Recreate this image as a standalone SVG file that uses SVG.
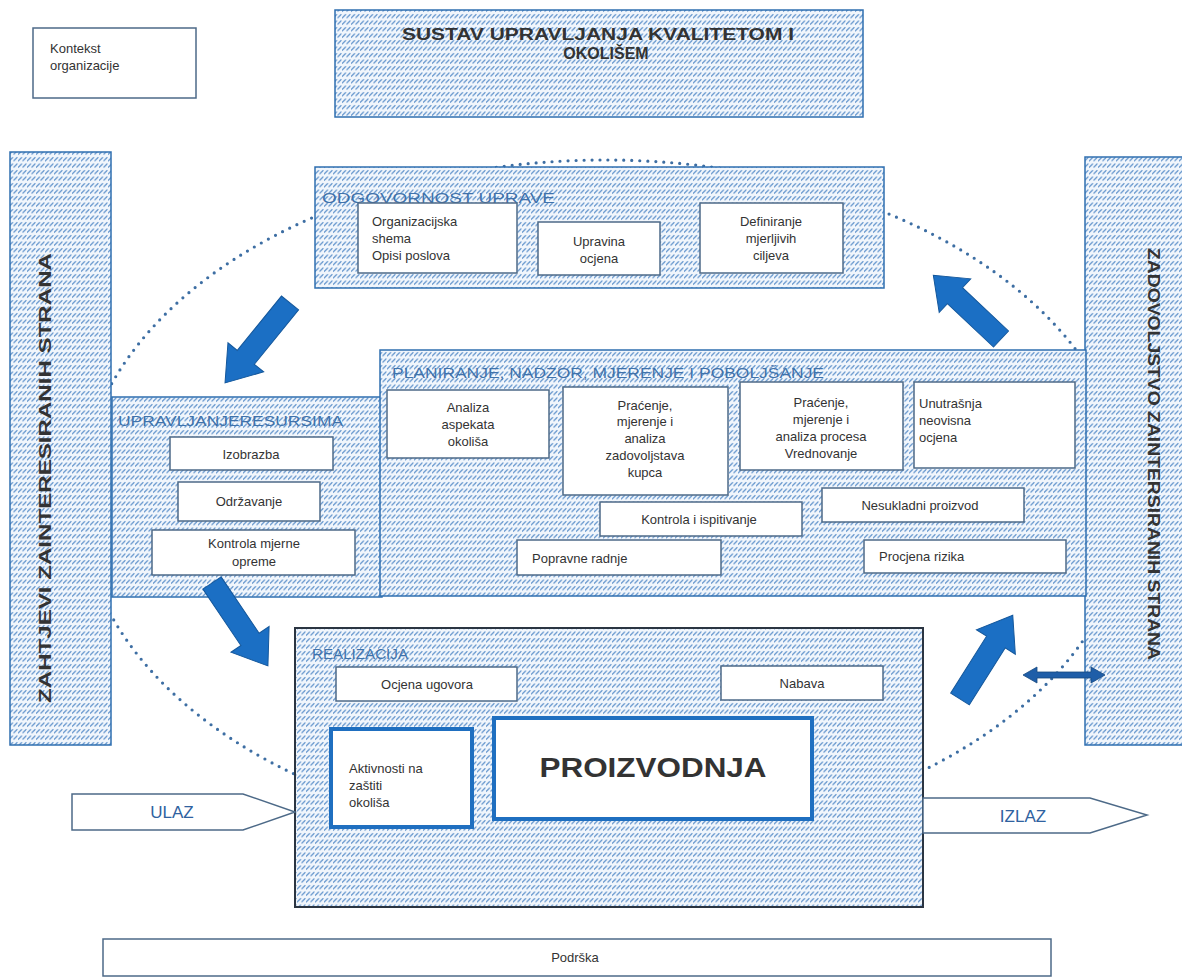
<svg xmlns="http://www.w3.org/2000/svg" width="1182" height="979" viewBox="0 0 1182 979">
<defs>
<pattern id="hatch" patternUnits="userSpaceOnUse" width="4.5" height="6.5">
<rect width="4.5" height="6.5" fill="#f1f6fc"/>
<path d="M0.3,4.8 L3.6,1.5" stroke="#3f7cc0" stroke-width="1.1" stroke-linecap="round"/>
</pattern>
<path id="blk" d="M0,-11 L68,-11 L68,-23 L100,0 L68,23 L68,11 L0,11 Z"/>
</defs>
<style>
.hb{fill:url(#hatch);stroke:#2f6fb0;stroke-width:1.5}
.wb{fill:#ffffff;stroke:#4d6a88;stroke-width:1.5}
.tb{fill:#ffffff;stroke:#1f6fc0;stroke-width:4}
.t{font-family:"Liberation Sans",Arial,sans-serif;font-size:13px;fill:#333333}
.c{text-anchor:middle}
.lbl{font-family:"Liberation Sans",Arial,sans-serif;font-size:14px;fill:#3f72ab}
.bold{font-family:"Liberation Sans",Arial,sans-serif;font-weight:bold;fill:#333333}
.io{fill:#ffffff;stroke:#4d6a88;stroke-width:1.5}
.iot{font-family:"Liberation Sans",Arial,sans-serif;font-size:17px;fill:#2f62a0;text-anchor:middle}
.arr{fill:#1b6fc4;stroke:#15589c;stroke-width:1}
</style>
<rect width="1182" height="979" fill="#ffffff"/>

<!-- dotted cycle -->
<ellipse cx="605" cy="500" rx="525" ry="340" fill="none" stroke="#3d6ea3" stroke-width="3.2" stroke-linecap="round" stroke-dasharray="0 8"/>

<g id="kontekst">
<rect x="33" y="28" width="163" height="70" class="wb"/>
<text x="50" y="53" class="t">Kontekst</text>
<text x="50" y="70" class="t">organizacije</text>
</g>

<g id="title">
<rect x="335" y="10" width="528" height="107" class="hb"/>
<text x="598" y="40" class="bold c" font-size="16" textLength="392" lengthAdjust="spacingAndGlyphs">SUSTAV UPRAVLJANJA KVALITETOM I</text>
<text x="606" y="59" class="bold c" font-size="16">OKOLIŠEM</text>
</g>

<g id="zahtjevi">
<rect x="10" y="152" width="101" height="593" class="hb"/>
<text transform="translate(51,478) rotate(-90)" class="bold c" font-size="17" textLength="450" lengthAdjust="spacingAndGlyphs">ZAHTJEVI ZAINTERESIRANIH STRANA</text>
</g>

<g id="zadovoljstvo">
<rect x="1085" y="157" width="100" height="588" class="hb"/>
<text transform="translate(1148,454) rotate(90)" class="bold c" font-size="16" textLength="412" lengthAdjust="spacingAndGlyphs">ZADOVOLJSTVO ZAINTERSIRANIH STRANA</text>
</g>

<g id="odgovornost">
<rect x="315" y="167" width="569" height="121" class="hb"/>
<text x="322" y="203" class="lbl" fill="#5f86b2" textLength="233" lengthAdjust="spacingAndGlyphs">ODGOVORNOST UPRAVE</text>
<rect x="358" y="203" width="159" height="70" class="wb"/>
<text x="372" y="226" class="t">Organizacijska</text>
<text x="372" y="243" class="t">shema</text>
<text x="372" y="260" class="t">Opisi poslova</text>
<rect x="538" y="222" width="122" height="53" class="wb"/>
<text x="599" y="246" class="t c">Upravina</text>
<text x="599" y="263" class="t c">ocjena</text>
<rect x="700" y="203" width="143" height="70" class="wb"/>
<text x="771" y="226" class="t c">Definiranje</text>
<text x="771" y="243" class="t c">mjerljivih</text>
<text x="771" y="260" class="t c">ciljeva</text>
</g>

<g id="resursi">
<rect x="112" y="397" width="270" height="200" class="hb"/>
<text x="118" y="426" class="lbl" textLength="225" lengthAdjust="spacingAndGlyphs">UPRAVLJANJERESURSIMA</text>
<rect x="170" y="437" width="163" height="33" class="wb"/>
<text x="251" y="459" class="t c">Izobrazba</text>
<rect x="178" y="482" width="142" height="39" class="wb"/>
<text x="249" y="506" class="t c">Održavanje</text>
<rect x="152" y="530" width="203" height="45" class="wb"/>
<text x="254" y="548" class="t c">Kontrola mjerne</text>
<text x="254" y="566" class="t c">opreme</text>
</g>

<g id="planiranje">
<rect x="380" y="350" width="706" height="246" class="hb"/>
<text x="392" y="378" class="lbl" fill="#6a8db5" textLength="432" lengthAdjust="spacingAndGlyphs">PLANIRANJE, NADZOR, MJERENJE I POBOLJŠANJE</text>
<rect x="387" y="390" width="162" height="68" class="wb"/>
<text x="468" y="412" class="t c">Analiza</text>
<text x="468" y="429" class="t c">aspekata</text>
<text x="468" y="446" class="t c">okoliša</text>
<rect x="563" y="387" width="165" height="108" class="wb"/>
<text x="645" y="410" class="t c">Praćenje,</text>
<text x="645" y="426" class="t c">mjerenje i</text>
<text x="645" y="443" class="t c">analiza</text>
<text x="645" y="460" class="t c">zadovoljstava</text>
<text x="645" y="477" class="t c">kupca</text>
<rect x="740" y="382" width="163" height="88" class="wb"/>
<text x="821" y="407" class="t c">Praćenje,</text>
<text x="821" y="424" class="t c">mjerenje i</text>
<text x="821" y="441" class="t c">analiza procesa</text>
<text x="821" y="458" class="t c">Vrednovanje</text>
<rect x="914" y="382" width="161" height="86" class="wb"/>
<text x="919" y="408" class="t">Unutrašnja</text>
<text x="919" y="425" class="t">neovisna</text>
<text x="919" y="442" class="t">ocjena</text>
<rect x="600" y="502" width="202" height="34" class="wb"/>
<text x="699" y="524" class="t c">Kontrola i ispitivanje</text>
<rect x="822" y="488" width="202" height="34" class="wb"/>
<text x="920" y="510" class="t c">Nesukladni proizvod</text>
<rect x="517" y="540" width="204" height="35" class="wb"/>
<text x="532" y="563" class="t">Popravne radnje</text>
<rect x="864" y="540" width="202" height="33" class="wb"/>
<text x="879" y="561" class="t">Procjena rizika</text>
</g>

<g id="realizacija">
<rect x="295" y="628" width="628" height="279" fill="url(#hatch)" stroke="#2b3542" stroke-width="2"/>
<text x="312" y="659" class="lbl" fill="#5d80a8" textLength="96" lengthAdjust="spacingAndGlyphs">REALIZACIJA</text>
<rect x="336" y="667" width="181" height="34" class="wb"/>
<text x="427" y="689" class="t c">Ocjena ugovora</text>
<rect x="721" y="666" width="162" height="34" class="wb"/>
<text x="802" y="688" class="t c">Nabava</text>
<rect x="331" y="729" width="141" height="98" class="tb"/>
<text x="349" y="773" class="t">Aktivnosti na</text>
<text x="349" y="790" class="t">zaštiti</text>
<text x="349" y="807" class="t">okoliša</text>
<rect x="494" y="718" width="318" height="101" class="tb"/>
<text x="653" y="777" class="bold c" font-size="27" textLength="227" lengthAdjust="spacingAndGlyphs">PROIZVODNJA</text>
</g>

<g id="ulaz">
<polygon points="72,794 243,794 295,812 243,830 72,830" class="io"/>
<text x="172" y="818" class="iot">ULAZ</text>
</g>

<g id="izlaz">
<polygon points="923,798 1090,798 1147,815 1090,833 923,833" class="io"/>
<text x="1023" y="822" class="iot">IZLAZ</text>
</g>

<g id="podrska">
<rect x="103" y="939" width="948" height="37" class="wb"/>
<text x="575" y="962" class="t c" font-size="12">Podrška</text>
</g>

<g id="connectors">
<use href="#blk" class="arr" transform="translate(290,303) rotate(129.1) scale(1.03,1)"/>
<use href="#blk" class="arr" transform="translate(212,583) rotate(56) scale(1,1)"/>
<use href="#blk" class="arr" transform="translate(960,699) rotate(-57.8) scale(0.99,1)"/>
<use href="#blk" class="arr" transform="translate(1001,339) rotate(-136.7) scale(0.93,1)"/>
<path d="M1023,675 L1037,667 L1037,672 L1091,672 L1091,667 L1105,675 L1091,683 L1091,678 L1037,678 L1037,683 Z" fill="#1f5ea8" stroke="#17497f" stroke-width="0.8"/>
</g>
</svg>
